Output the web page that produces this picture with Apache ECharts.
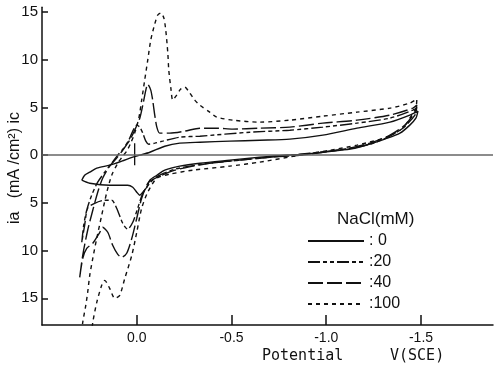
<!DOCTYPE html>
<html><head><meta charset="utf-8">
<script src="https://cdn.jsdelivr.net/npm/echarts@6/dist/echarts.min.js"></script>
<style>html,body{margin:0;padding:0;background:#fff}#c{width:495px;height:368px}</style>
</head><body><div id="c"></div>
<script>
// NaCl concentrations (mM)
const seriesNames = ['0', '20', '40', '100'];
const legendLabels = [': 0', ':20', ':40', ':100'];
const xTicks = [0, -0.5, -1.0, -1.5];
const yTicks = [-15, -10, -5, 0, 5, 10, 15];

// Potential V(SCE) and current density (mA/cm2, cathodic positive) for each loop
const v0 = [0.290,0.275,0.248,0.211,0.143,0.079,0.021,-0.016,-0.069,-0.148,-0.227,-0.333,-0.491,-0.649,-0.808,-0.982,-1.162,-1.336,-1.441,-1.484,
  -1.473,-1.441,-1.389,-1.309,-1.246,-1.151,-1.072,-0.982,-0.887,-0.781,-0.649,-0.491,-0.333,-0.227,-0.148,-0.106,-0.069,-0.053,-0.032,-0.016,0.0,0.021,0.048,0.143,0.248,0.290];
const i0 = [-2.62,-2.10,-1.78,-1.36,-1.05,-0.63,-0.21,0.0,0.31,0.94,1.26,1.36,1.47,1.57,1.68,2.10,2.83,3.46,4.20,4.62,
  3.88,3.15,2.31,1.68,1.26,0.73,0.52,0.31,0.10,0.0,-0.21,-0.52,-0.84,-1.15,-1.57,-2.10,-2.62,-3.36,-3.88,-4.20,-3.88,-3.36,-3.15,-3.15,-2.94,-2.62];

const v20 = [0.290,0.280,0.264,0.238,0.206,0.169,0.132,0.100,0.069,0.042,0.021,0.0,-0.016,-0.032,-0.048,-0.063,-0.095,-0.137,-0.227,-0.333,-0.597,-0.808,-0.982,-1.162,-1.336,-1.457,-1.478,
  -1.468,-1.404,-1.325,-1.230,-1.098,-0.966,-0.861,-0.702,-0.544,-0.385,-0.280,-0.201,-0.132,-0.095,-0.069,-0.032,-0.005,0.021,0.048,0.074,0.106,0.132,0.169,0.222,0.259,0.275,0.290];
const i20 = [-9.13,-7.35,-5.77,-4.20,-2.83,-1.78,-0.84,0.0,0.73,1.57,2.52,3.15,2.94,2.31,1.47,1.15,1.26,1.47,1.89,1.99,2.41,2.62,2.94,3.36,3.88,4.72,5.04,
  4.20,2.83,1.89,1.15,0.63,0.31,0.10,-0.21,-0.52,-0.84,-1.15,-1.47,-1.99,-2.41,-2.94,-3.99,-5.56,-7.03,-7.76,-7.14,-5.56,-4.72,-4.72,-5.04,-5.56,-7.35,-9.13];

const v40 = [0.301,0.285,0.259,0.232,0.206,0.180,0.143,0.106,0.074,0.037,0.011,-0.016,-0.032,-0.048,-0.058,-0.074,-0.084,-0.095,-0.106,-0.121,-0.174,-0.253,-0.333,-0.422,-0.507,-0.649,-0.808,-0.982,-1.162,-1.336,-1.457,-1.478,
  -1.468,-1.415,-1.336,-1.246,-1.125,-0.982,-0.861,-0.702,-0.544,-0.385,-0.296,-0.201,-0.121,-0.079,-0.058,-0.026,0.0,0.026,0.053,0.079,0.100,0.127,0.153,0.180,0.195,0.232,0.264,0.285,0.301];
const i40 = [-12.80,-10.49,-7.87,-5.77,-3.88,-2.41,-1.15,-0.31,0.52,1.57,2.62,3.88,5.25,6.82,7.45,6.82,5.77,4.20,2.94,2.31,2.31,2.52,2.83,2.83,2.73,2.83,2.94,3.36,3.67,4.20,4.93,5.25,
  4.51,3.15,2.10,1.36,0.73,0.31,0.0,-0.21,-0.52,-0.84,-1.15,-1.57,-2.20,-2.62,-2.94,-4.51,-6.61,-8.71,-10.28,-10.70,-10.40,-9.44,-8.08,-7.56,-8.08,-9.23,-9.76,-10.81,-12.80];

const v100 = [0.296,0.285,0.269,0.259,0.248,0.232,0.211,0.185,0.158,0.132,0.100,0.074,0.053,0.032,0.011,-0.011,-0.026,-0.042,-0.058,-0.074,-0.095,-0.111,-0.127,-0.143,-0.153,-0.164,-0.169,-0.180,-0.190,-0.211,-0.232,-0.253,-0.280,-0.306,-0.333,-0.385,-0.422,-0.507,-0.649,-0.808,-0.982,-1.162,-1.336,-1.441,-1.478,
  -1.473,-1.441,-1.404,-1.320,-1.162,-1.019,-0.861,-0.649,-0.491,-0.296,-0.174,-0.106,-0.058,-0.026,0.0,0.026,0.063,0.090,0.116,0.143,0.169,0.185,0.211,0.232,0.243];
const i100 = [-19.41,-17.52,-15.74,-14.38,-12.59,-10.81,-8.71,-6.30,-3.88,-2.10,-0.84,-0.10,0.42,1.26,2.31,3.88,5.77,7.87,9.97,12.07,13.75,14.69,14.90,14.38,13.12,10.70,8.92,7.03,5.77,6.30,6.93,7.14,6.51,5.77,5.25,4.51,3.99,3.67,3.46,3.67,4.09,4.51,4.93,5.46,5.88,
  4.93,3.88,2.83,1.89,1.05,0.52,0.0,-0.73,-1.15,-1.57,-1.99,-2.41,-3.88,-5.56,-8.08,-10.49,-12.91,-14.69,-15.01,-13.96,-13.12,-13.64,-15.43,-17.52,-19.41];

// small vertical marker drawn near 0.0 V
const markerV = [0.011, 0.011];
const markerI = [1.26, -1.05];

const zip = (a, b) => a.map((x, k) => [x, b[k]]);
const dashes = ['solid', [12, 3, 4, 3, 4, 3], [15, 4], [4, 4]];
const curves = [zip(v0, i0), zip(v20, i20), zip(v40, i40), zip(v100, i100)];

const FONT = 'Liberation Sans';
const series = curves.map((d, k) => ({
  name: seriesNames[k], type: 'line', data: d, symbol: 'none', smooth: 0.25,
  itemStyle: { color: '#111' },
  lineStyle: { color: '#111', width: 1.4, type: dashes[k] }, z: 3,
  markLine: k === 0 ? { symbol: 'none', silent: true, label: { show: false },
    lineStyle: { color: '#666', width: 1.5, type: 'solid' }, data: [{ yAxis: 0 }] } : undefined
}));
series.push({ name: 'marker', type: 'line', data: zip(markerV, markerI), symbol: 'none',
  lineStyle: { color: '#111', width: 1.3 } });

const chart = echarts.init(document.getElementById('c'), null, { renderer: 'canvas' });
chart.setOption({
  animation: false,
  backgroundColor: '#fff',
  grid: { left: 42, right: 2, top: 7.3, bottom: 43 },
  xAxis: {
    type: 'value', inverse: true, min: -1.88, max: 0.5,
    axisLine: { onZero: false, lineStyle: { color: '#111', width: 1.5 } },
    axisTick: { customValues: xTicks, inside: true, length: 10, lineStyle: { color: '#111', width: 1.5 } },
    axisLabel: { customValues: xTicks, margin: 6, color: '#111', fontSize: 14, fontFamily: FONT,
      formatter: v => (v === 0 ? '0.0' : v.toFixed(1)) },
    splitLine: { show: false }
  },
  yAxis: {
    type: 'value', min: -17.8, max: 15.5,
    axisLine: { onZero: false, lineStyle: { color: '#111', width: 1.5 } },
    axisTick: { customValues: yTicks, inside: true, length: 6, lineStyle: { color: '#111', width: 1.5 } },
    axisLabel: { customValues: yTicks, margin: 4, color: '#111', fontSize: 15, fontFamily: FONT,
      formatter: v => String(Math.abs(v)) },
    splitLine: { show: false }
  },
  legend: {
    data: seriesNames, orient: 'vertical', left: 307, top: 233,
    itemWidth: 56, itemHeight: 14, itemGap: 5, padding: 0, selectedMode: false,
    itemStyle: { opacity: 0 },
    formatter: n => legendLabels[seriesNames.indexOf(n)],
    textStyle: { color: '#111', fontSize: 16, fontFamily: FONT }
  },
  graphic: [
    { type: 'text', left: 337, top: 211, style: { text: 'NaCl(mM)', fontSize: 17, fontFamily: FONT, fill: '#111' } },
    { type: 'text', left: 262, top: 349, style: { text: 'Potential', fontSize: 15, fontFamily: 'DejaVu Sans Mono', fill: '#111' } },
    { type: 'text', left: 390, top: 349, style: { text: 'V(SCE)', fontSize: 15, fontFamily: 'DejaVu Sans Mono', fill: '#111' } },
    { type: 'text', x: 15, y: 168, rotation: Math.PI / 2,
      style: { text: 'ia   (mA /cm²) ic', fontSize: 16, fontFamily: FONT, fill: '#111', align: 'center', verticalAlign: 'middle' } }
  ],
  series: series
});
</script></body></html>
